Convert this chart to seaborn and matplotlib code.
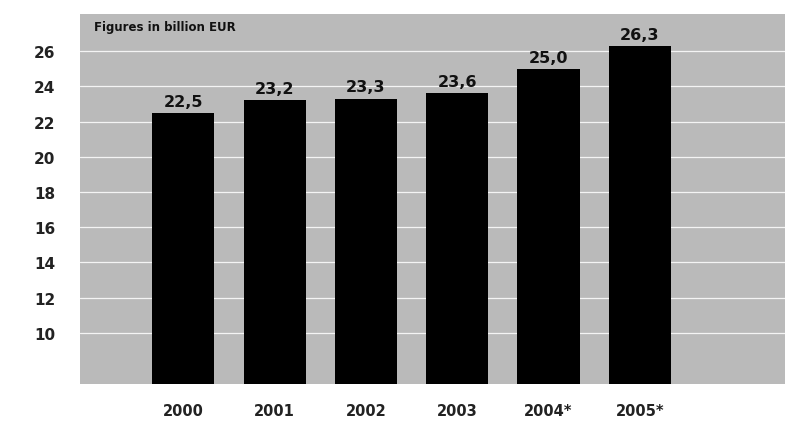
import matplotlib
matplotlib.use('Agg')
import matplotlib.pyplot as plt
import seaborn as sns
import pandas as pd

# Chart data
years = ['2000', '2001', '2002', '2003', '2004*', '2005*']
values = [22.5, 23.2, 23.3, 23.6, 25.0, 26.3]
yticks = [10, 12, 14, 16, 18, 20, 22, 24, 26]

df = pd.DataFrame({'year': years, 'value': values})

sns.set_style('whitegrid', {'axes.facecolor': '#bababa', 'grid.color': 'white',
                            'axes.edgecolor': '#bababa'})
plt.rcParams['font.family'] = ['DejaVu Sans']

fig = plt.figure(figsize=(7.85, 4.31), dpi=100)
ax = fig.add_axes([0.102, 0.107, 0.898, 0.858])

sns.barplot(data=df, x='year', y='value', color='black', width=0.68,
            saturation=1, linewidth=0, ax=ax)

ax.set_ylim(7.1, 28.1)
ax.set_xlim(-1.13, 6.59)
ax.set_yticks(yticks)
ax.grid(axis='x', visible=False)
ax.grid(axis='y', color='white', linewidth=0.9, alpha=0.85)
ax.set_axisbelow(True)
ax.set_xlabel('')
ax.set_ylabel('')

for lbl in ax.get_yticklabels():
    lbl.set_fontweight('bold')
    lbl.set_fontsize(11)
    lbl.set_color('#222222')
for lbl in ax.get_xticklabels():
    lbl.set_fontweight('bold')
    lbl.set_fontsize(10.5)
    lbl.set_color('#222222')
ax.tick_params(axis='y', length=0, pad=18)
ax.tick_params(axis='x', length=0, pad=14)

# value labels above bars
for i, v in enumerate(values):
    ax.annotate(f'{v:.1f}'.replace('.', ','), (i, v), xytext=(0, 3),
                textcoords='offset points', ha='center', va='bottom',
                fontsize=11.5, fontweight='bold', color='#111111')

ax.text(0.02, 0.985, 'Figures in billion EUR', transform=ax.transAxes,
        ha='left', va='top', fontsize=8.5, fontweight='bold', color='#111111')

for s in ax.spines.values():
    s.set_visible(False)

fig.savefig('out.png', dpi=100)
